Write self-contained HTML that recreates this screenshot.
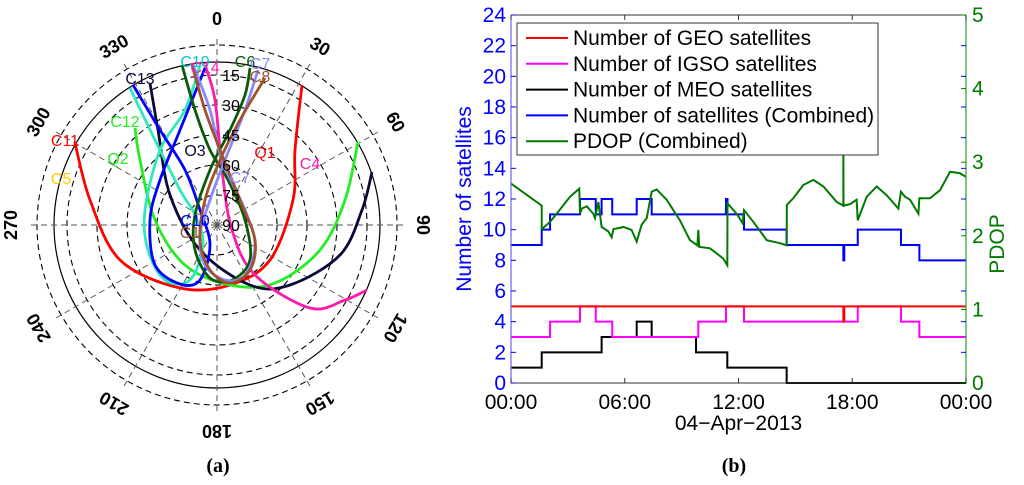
<!DOCTYPE html>
<html><head><meta charset="utf-8">
<style>
html,body{margin:0;padding:0;background:#fff;}
svg{display:block;font-family:"Liberation Sans",sans-serif;}
</style></head>
<body>
<svg id="fig" width="1024" height="485" viewBox="0 0 1024 485">
  <g id="polar"></g>
  <g id="ts"></g>
  <text x="218" y="472" font-family="Liberation Serif" font-weight="bold" font-size="20" text-anchor="middle">(a)</text>
  <text x="734" y="472" font-family="Liberation Serif" font-weight="bold" font-size="20" text-anchor="middle">(b)</text>
</svg>
<script>
// ---------- Skyplot data (east, north offsets in degrees of zenith distance) ----------
const trackNames = ["C11","Q2","C13","C14","C12","C10","C6","C7","C8"];
const trackColors = ["#ff0000","#22ee22","#0a0a3a","#ff1aaa","#30e8c0","#0000ff","#0a5a0a","#8888ff","#a0522d"];
const trackC11 = [[-71,41],[-63.5,12.5],[-48.5,-17.5],[-18.5,-31.5],[6.5,-30],[26.5,-17.5],[38,12.5],[39,37.5],[42.5,70]];
const trackQ2 = [[-41,48.5],[-38.5,32.5],[-31,2.5],[-16,-20],[6.5,-30],[29,-29],[51.5,-12.5],[64,12.5],[70.5,41.5]];
const trackC13 = [[-33.5,71],[-29.5,47.5],[-23.5,15],[-8.5,-12.5],[16.5,-30],[36.5,-30],[61.5,-15],[72.5,7.5],[77.5,26.5]];
const trackC14 = [[-6,80],[-1,62.5],[2.5,27.5],[7.5,-2.5],[19,-25],[46.5,-41.5],[64,-37.5],[75,-32.5]];
const trackC12 = [[-43.5,68.5],[-31,42.5],[-18.5,17.5],[-11,5],[-7,-10],[-13.5,-27.5],[-26,-27.5],[-34.5,-12.5],[-36,7.5],[-28.5,37.5],[-16,57.5],[-8.5,80]];
const trackC10 = [[-42,70],[-28.5,47.5],[-16,27.5],[-8.5,7.5],[-3.5,-10],[-8.5,-27.5],[-18.5,-29.5],[-31,-20],[-33.5,2.5],[-28.5,22.5],[-18.5,47.5],[-6,78.5]];
const trackC6 = [[-17.5,80],[-11,57.5],[-3.5,37.5],[5.5,22.5],[14,2.5],[16.5,-17.5],[7.5,-27.5],[-3.5,-26.5],[-11,-12.5],[-11,5],[-3.5,27.5],[6.5,47.5],[14,65],[16.5,78.5]];
const trackC7 = [[-12,80],[-3.5,57.5],[2.5,32.5],[14,7.5],[19,-10],[14,-25],[4,-27.5],[-6,-20],[-8.5,-5],[-3.5,12.5],[4,32.5],[14,57.5],[20.5,77.5]];
const trackC8 = [[-12.5,80],[-6,57.5],[1.5,37.5],[11.5,12.5],[19,-7.5],[16.5,-22.5],[6.5,-29],[-3.5,-22.5],[-8.5,-7.5],[-6,12.5],[1.5,32.5],[11.5,52.5],[24,73.5]];
const tracks = [trackC11,trackQ2,trackC13,trackC14,trackC12,trackC10,trackC6,trackC7,trackC8];
const satLabels = ["C10","C14","C6","C7","C8","C13","C12","C11","O3","Q1","C4","Q2","C5","C7","C10","C1"];
const satLabelColors = ["#00c8d8","#ff1aaa","#0a5a0a","#8888ff","#a0522d","#0a0a3a","#22ee22","#ff0000","#0a0a3a","#ff0000","#ff1aaa","#22ee22","#ffcc00","#8888ff","#0000ff","#a0522d"];
const satLabelPos = [[-11,82],[-6,79],[14,82],[21.5,81],[21.5,74.5],[-38.5,73.5],[-46,52],[-76,42.5],[-11,37.5],[24,36.5],[46.5,31],[-49.5,33.5],[-78,23.5],[11.5,24],[-11,2.5],[-13.5,-3.5]];
const elevRings = [15,30,45,60,75,90];
const azTicks = [0,30,60,90,120,150,180,210,240,270,300,330];

const NS="http://www.w3.org/2000/svg";
function mk(parent,tag,attrs){const e=document.createElementNS(NS,tag);for(const k in attrs)e.setAttribute(k,attrs[k]);parent.appendChild(e);return e;}

(function(){
  const g=document.getElementById('polar');
  const cx=217, cy=225, pxPerDeg=2;
  const px=e=>cx+e*pxPerDeg, py=n=>cy-n*pxPerDeg;
  const rOf=zen=>zen*pxPerDeg;
  for(const el of [0,15,30,45,60,75]){
    const c=mk(g,'circle',{cx,cy,r:rOf(90-el),fill:'none',stroke:'#000','stroke-width':1.1,'stroke-dasharray':'6,4'});
    
    
  }
  const solid=mk(g,'circle',{cx,cy,r:163,fill:'none',stroke:'#000','stroke-width':1.2});
  
  
  for(const a of azTicks){
    const t=a*Math.PI/180;
    const sp=mk(g,'line',{x1:cx,y1:cy,x2:cx+Math.sin(t)*188,y2:cy-Math.cos(t)*188,stroke:'#555','stroke-width':1,'stroke-dasharray':'6,4'});
    
    
    const lx=cx+Math.sin(t)*206, ly=cy-Math.cos(t)*206;
    const tx=mk(g,'text',{x:lx,y:ly,'font-size':18,'font-weight':'bold','text-anchor':'middle','dominant-baseline':'central',transform:`rotate(${a} ${lx} ${ly})`});
    tx.textContent=a;
    
    
  }
  function smooth(pts){
    const P=pts.map(p=>[px(p[0]),py(p[1])]);
    let d=`M${P[0][0]},${P[0][1]}`;
    for(let i=0;i<P.length-1;i++){
      const p0=P[i-1]||P[i],p1=P[i],p2=P[i+1],p3=P[i+2]||P[i+1];
      const c1=[p1[0]+(p2[0]-p0[0])/6,p1[1]+(p2[1]-p0[1])/6];
      const c2=[p2[0]-(p3[0]-p1[0])/6,p2[1]-(p3[1]-p1[1])/6];
      d+=` C${c1[0]},${c1[1]} ${c2[0]},${c2[1]} ${p2[0]},${p2[1]}`;
    }
    return d;
  }
  tracks.forEach((tr,i)=>{
    const p=mk(g,'path',{d:smooth(tr),fill:'none',stroke:trackColors[i],'stroke-width':2.8});
    
    
  });
  elevRings.forEach(el=>{
    const t=mk(g,'text',{x:cx+14,y:cy-rOf(90-el)+6,'font-size':16,'text-anchor':'middle'});
    t.textContent=el;
    
    
  });
  satLabels.forEach((s,i)=>{
    const t=mk(g,'text',{x:px(satLabelPos[i][0]),y:py(satLabelPos[i][1])+6,'font-size':16,fill:satLabelColors[i],'text-anchor':'middle'});
    t.textContent=s;
    
    
  });
})();

// ---------- Time series data (hours, value) ----------
const geoSteps = [[0,5],[17.53,4],[17.58,5],[24,5]];
const igsoSteps = [[0,3],[2.06,4],[3.64,5],[4.47,4],[5.34,3],[9.88,4],[11.34,5],[12.29,4],[18.29,5],[20.57,4],[21.54,3],[24,3]];
const meoSteps = [[0,1],[1.62,2],[4.78,3],[6.63,4],[7.42,3],[9.76,2],[11.41,1],[14.54,0],[24,0]];
const totalSteps = [[0,9],[1.62,10],[2.06,11],[3.64,12],[4.47,11],[4.78,12],[5.34,11],[6.63,12],[7.42,11],[11.34,12],[11.42,11],[12.29,10],[14.54,9],[17.53,8],[17.58,9],[18.29,10],[20.57,9],[21.54,8],[24,8]];
const pdopTimes = [0,1.62,1.62,2.06,2.41,3.11,3.60,3.64,3.73,4.00,4.34,4.43,4.61,4.78,5.13,5.31,5.40,5.93,6.36,6.63,6.89,7.16,7.42,7.68,8.21,8.91,9.44,9.83,9.88,9.93,10.50,11.20,11.41,11.42,11.90,12.22,12.29,12.78,13.49,14.19,14.54,14.55,14.89,15.42,15.95,16.48,17.18,17.53,17.53,17.54,17.88,18.23,18.29,18.76,19.29,19.82,20.43,20.57,20.78,21.05,21.49,21.54,22.10,22.63,23.16,23.68,24.0];
const pdopValues = [2.71,2.41,2.09,2.19,2.30,2.53,2.64,2.30,2.37,2.40,2.30,2.24,2.46,2.12,2.06,1.98,2.09,2.12,2.08,1.92,2.15,2.24,2.60,2.63,2.49,2.21,1.94,1.87,2.08,1.85,1.83,1.69,1.60,2.44,2.30,2.17,2.35,2.19,1.94,1.90,1.87,2.42,2.51,2.69,2.76,2.67,2.46,2.41,3.14,2.41,2.43,2.49,2.21,2.53,2.67,2.55,2.37,2.60,2.53,2.49,2.30,2.51,2.51,2.62,2.87,2.85,2.80];
const leftTicks = [0,2,4,6,8,10,12,14,16,18,20,22,24];
const rightTicks = [0,1,2,3,4,5];
const xTickHours = [0,6,12,18,24];
const xTickLabels = ["00:00","06:00","12:00","18:00","00:00"];
const legendLabels = ["Number of GEO satellites","Number of IGSO satellites","Number of MEO satellites","Number of satellites (Combined)","PDOP (Combined)"];
const legendColors = ["#ff0000","#ff00ff","#000000","#0000ff","#007a00"];

(function(){
  const g=document.getElementById('ts');
  const L=511,R=966,T=15,B=383;
  const X=h=>L+h/24*(R-L), Y=v=>B-v/24*(B-T), Y2=v=>B-v/5*(B-T);
  const fr=mk(g,'rect',{x:L,y:T,width:R-L,height:B-T,fill:'#fff',stroke:'none'});
  
  
  function stepPath(s){let d=`M${X(s[0][0])},${Y(s[0][1])}`;for(let i=1;i<s.length;i++){d+=` H${X(s[i][0])} V${Y(s[i][1])}`;}return d;}
  const series=[[totalSteps,'#0000ff','series-total'],[meoSteps,'#000','series-meo'],[igsoSteps,'#ff00ff','series-igso'],[geoSteps,'#ff0000','series-geo']];
  series.forEach(s=>{
    const p=mk(g,'path',{d:stepPath(s[0]),fill:'none',stroke:s[1],'stroke-width':2});
    
    
  });
  const pd=mk(g,'path',{d:pdopTimes.map((t,i)=>(i?'L':'M')+X(t)+','+Y2(pdopValues[i])).join(' '),fill:'none',stroke:'#007a00','stroke-width':2});
  
  
  const ax=mk(g,'path',{d:`M${L},${T} V${B} H${R} V${T} H${L}`,fill:'none',stroke:'#333','stroke-width':1});
  
  
  mk(g,'line',{x1:L,y1:T,x2:L,y2:B,stroke:'#6666ff','stroke-width':1.2});
  mk(g,'line',{x1:R,y1:T,x2:R,y2:B,stroke:'#339933','stroke-width':1.2});
  leftTicks.forEach(v=>{
    mk(g,'line',{x1:L,y1:Y(v),x2:L+5,y2:Y(v),stroke:'#0000ff'});
    mk(g,'line',{x1:R,y1:Y(v),x2:R-5,y2:Y(v),stroke:'#0000ff'});
    const t=mk(g,'text',{x:L-5,y:Y(v)+7,'font-size':21,fill:'#0000ff','text-anchor':'end'});
    t.textContent=v;
    
    
  });
  rightTicks.forEach(v=>{
    mk(g,'line',{x1:R,y1:Y2(v),x2:R-5,y2:Y2(v),stroke:'#007a00'});
    const t=mk(g,'text',{x:R+6,y:Y2(v)+7,'font-size':21,fill:'#007a00'});
    t.textContent=v;
    
    
  });
  xTickHours.forEach((h,i)=>{
    mk(g,'line',{x1:X(h),y1:B,x2:X(h),y2:B-5,stroke:'#333'});
    mk(g,'line',{x1:X(h),y1:T,x2:X(h),y2:T+5,stroke:'#333'});
    const t=mk(g,'text',{x:X(h),y:B+26,'font-size':21,'text-anchor':'middle'});
    t.textContent=xTickLabels[i];
    
    
  });
  const xl=mk(g,'text',{x:(L+R)/2,y:430,'font-size':21,'text-anchor':'middle'});
  xl.textContent="04\u2212Apr\u22122013";
  
  
  const yl=mk(g,'text',{x:471,y:(T+B)/2,'font-size':21,fill:'#0000ff','text-anchor':'middle',transform:`rotate(-90 471 ${(T+B)/2})`});
  yl.textContent="Number of satellites";
  
  
  const y2=mk(g,'text',{x:1004,y:(T+B)/2+45,'font-size':21,fill:'#007a00','text-anchor':'middle',transform:`rotate(-90 1004 ${(T+B)/2+45})`});
  y2.textContent="PDOP";
  
  
  const lg=mk(g,'g',{});
  
  
  mk(lg,'rect',{x:517,y:23,width:361,height:132,fill:'#fff',stroke:'#333','stroke-width':1});
  legendLabels.forEach((s,i)=>{
    const yy=38+i*25.8;
    mk(lg,'line',{x1:526,y1:yy,x2:568,y2:yy,stroke:legendColors[i],'stroke-width':2});
    const t=mk(lg,'text',{x:573,y:yy+7,'font-size':21});
    t.textContent=s;
    
    
  });
})();
</script>
</body></html>
